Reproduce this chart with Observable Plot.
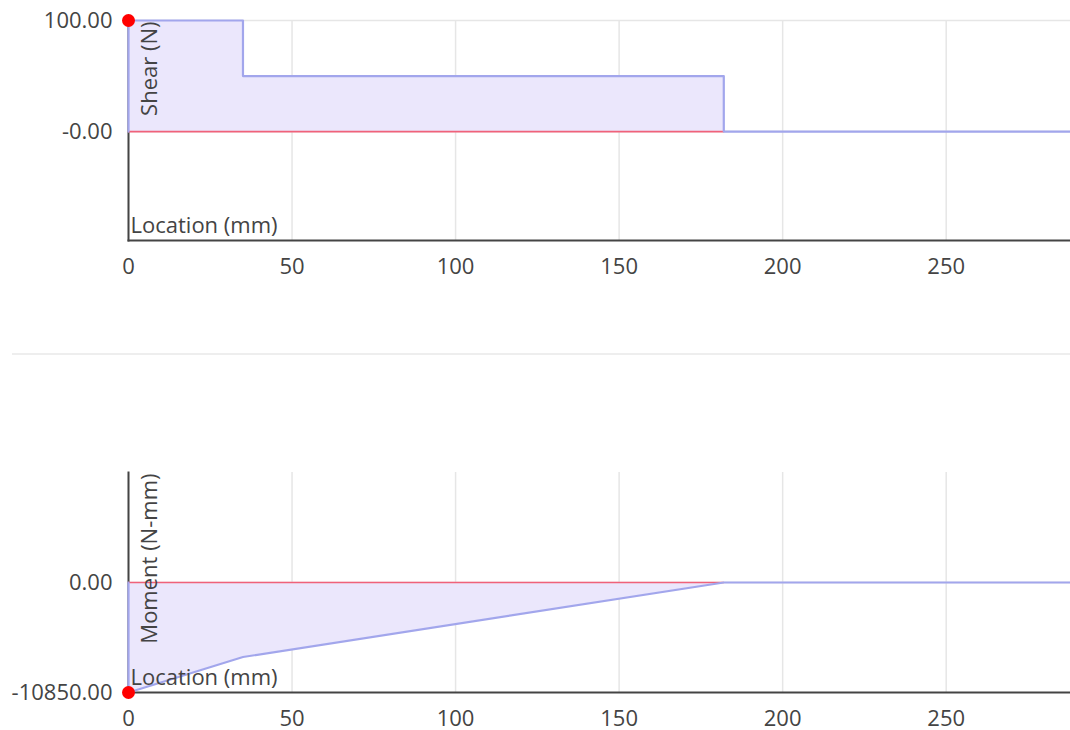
<!DOCTYPE html>
<html><head><meta charset="utf-8">
<script src="https://cdn.jsdelivr.net/npm/d3@7"></script>
<script src="https://cdn.jsdelivr.net/npm/@observablehq/plot@0.6"></script>
<style>
html,body{margin:0;padding:0;background:#fff;font-family:"Open Sans";overflow:hidden;}
svg{display:block}
#sep{height:2px;background:#eeeeee;margin:53px 0 0 12px;}
</style></head><body>
<div id="top"></div><div id="sep"></div><div id="bot"></div>
<script>
// Data
const shearX = [0, 0, 35, 35, 182, 182, 288];
const shearV = [0, 100, 100, 50, 50, 0, 0];
const momentX = [0, 0, 35, 182, 288];
const momentV = [0, -10850, -7350, 0, 0];
const beamX = [0, 182];
const xTicks = [0, 50, 100, 150, 200, 250];
const shearTicks = [100, 0];
const shearTickLabels = ["100.00", "-0.00"];
const momentTicks = [0, -10850];
const momentTickLabels = ["0.00", "-10850.00"];
const shearMax = [{x: 0, v: 100}];
const momentMax = [{x: 0, v: -10850}];
const xLabel = "Location (mm)";
const shearLabel = "Shear (N)";
const momentLabel = "Moment (N-mm)";

const shearData = shearX.map((x, i) => ({x, v: shearV[i]}));
const momentData = momentX.map((x, i) => ({x, v: momentV[i]}));
const beamData = beamX.map(x => ({x, v: 0}));

const FILL = "#ebe7fc", LINE = "#a2a6ec", RED = "#f0627a", GRID = "#e6e6e6", AX = "#444";

function panel({data, ticks, labels, yDomain, yGrid, yLabel, maxPt, height, mt, mb}) {
  return Plot.plot({
    width: 1070, height,
    marginLeft: 128, marginRight: 0, marginTop: mt, marginBottom: mb,
    style: {fontFamily: "Open Sans", fontSize: "22px", color: AX, background: "#fff", overflow: "visible"},
    x: {domain: [0, 288]},
    y: {domain: yDomain},
    marks: [
      Plot.gridX(xTicks, {stroke: GRID, strokeOpacity: 1, strokeWidth: 1.5}),
      Plot.gridY(yGrid, {stroke: GRID, strokeOpacity: 1, strokeWidth: 1.5}),
      Plot.frame({anchor: "left", stroke: AX, strokeWidth: 2}),
      Plot.frame({anchor: "bottom", stroke: AX, strokeWidth: 2}),
      Plot.areaY(data, {x: "x", y1: 0, y2: "v", fill: FILL, fillOpacity: 1}),
      Plot.line(beamData, {x: "x", y: "v", stroke: RED, strokeWidth: 1.6}),
      Plot.line(data, {x: "x", y: "v", stroke: LINE, strokeWidth: 2.2}),
      Plot.axisX({ticks: xTicks, tickSize: 0, tickPadding: 18, label: null}),
      Plot.axisY({ticks, tickSize: 0, tickPadding: 16, label: null, tickFormat: (d) => labels[ticks.indexOf(d)]}),
      Plot.text([xLabel], {text: d => d, frameAnchor: "bottom-left", textAnchor: "start", lineAnchor: "bottom", dx: 2, dy: -8}),
      Plot.text([yLabel], {text: d => d, frameAnchor: "top-left", textAnchor: "end", lineAnchor: "bottom", rotate: -90, dx: 28, dy: 1}),
      Plot.dot(maxPt, {x: "x", y: "v", r: 6.5, fill: "#ff0000", stroke: null})
    ]
  });
}

document.getElementById("top").append(panel({
  data: shearData, ticks: shearTicks, labels: shearTickLabels, yDomain: [-98, 100], yGrid: [100, 0],
  yLabel: shearLabel, maxPt: shearMax, height: 300, mt: 20, mb: 60
}));
document.getElementById("bot").append(panel({
  data: momentData, ticks: momentTicks, labels: momentTickLabels, yDomain: [-10850, 10850], yGrid: [0],
  yLabel: momentLabel, maxPt: momentMax, height: 375, mt: 117, mb: 38
}));
</script>
</body></html>
